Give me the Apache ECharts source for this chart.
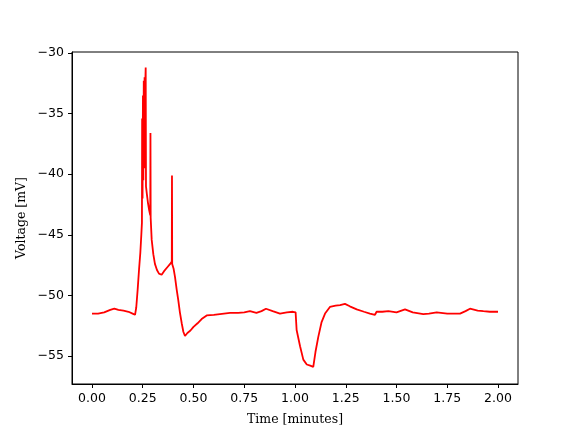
<!DOCTYPE html>
<html>
<head>
<meta charset="utf-8">
<title>Voltage trace</title>
<style>
  html, body { margin: 0; padding: 0; background: #fff; }
  #chart { width: 576px; height: 432px; }
</style>
<script src="https://cdn.jsdelivr.net/npm/echarts@6/dist/echarts.min.js"></script>
</head>
<body>
<div id="chart"></div>
<script>
// time in minutes, voltage in mV
var timeMin = [
  0.00, 0.03, 0.06, 0.09, 0.11, 0.13, 0.155, 0.18, 0.20, 0.212,
  0.218, 0.225, 0.232, 0.238, 0.243, 0.246, 0.247, 0.249, 0.251, 0.253,
  0.255, 0.257, 0.259, 0.261, 0.263, 0.2645, 0.266, 0.270, 0.276, 0.282,
  0.287, 0.288, 0.289, 0.294, 0.302, 0.310, 0.320, 0.330, 0.343, 0.355,
  0.370, 0.385, 0.393, 0.394, 0.395, 0.402, 0.409, 0.417, 0.425, 0.433,
  0.442, 0.450, 0.458, 0.47, 0.485, 0.50, 0.52, 0.54, 0.565, 0.60,
  0.65, 0.68, 0.72, 0.75, 0.778, 0.81, 0.835, 0.857, 0.89, 0.926,
  0.96, 0.99, 1.003, 1.008, 1.025, 1.041, 1.058, 1.075, 1.09, 1.099,
  1.100, 1.101, 1.115, 1.131, 1.148, 1.172, 1.20, 1.222, 1.246, 1.27,
  1.304, 1.34, 1.369, 1.394, 1.402, 1.43, 1.46, 1.50, 1.542, 1.58,
  1.632, 1.66, 1.698, 1.75, 1.813, 1.84, 1.862, 1.90, 1.928, 1.96,
  2.00
];
var voltage = [
  -51.5, -51.5, -51.4, -51.2, -51.1, -51.2, -51.25, -51.35, -51.5, -51.6,
  -51.0, -49.5, -47.8, -46.5, -45.0, -44.0, -35.4, -42.0, -33.5, -40.5,
  -32.3, -39.5, -32.0, -38.0, -32.2, -31.2, -41.0, -41.6, -42.4, -43.0,
  -43.4, -36.6, -43.6, -45.4, -46.6, -47.4, -47.9, -48.2, -48.3, -48.0,
  -47.7, -47.4, -47.2, -40.1, -47.4, -47.8, -48.5, -49.5, -50.4, -51.4,
  -52.3, -53.0, -53.35, -53.1, -52.9, -52.6, -52.3, -51.95, -51.65, -51.6,
  -51.5, -51.45, -51.45, -51.4, -51.3, -51.45, -51.3, -51.1, -51.3, -51.5,
  -51.4, -51.35, -51.4, -52.85, -54.2, -55.3, -55.7, -55.8, -55.9, -55.95,
  -56.0, -54.65, -53.4, -52.2, -51.5, -50.95, -50.85, -50.8, -50.7, -50.9,
  -51.15, -51.35, -51.5, -51.6, -51.35, -51.35, -51.3, -51.4, -51.15, -51.4,
  -51.55, -51.5, -51.4, -51.5, -51.5, -51.3, -51.1, -51.25, -51.3, -51.35,
  -51.35
];
var xTicks = [0, 0.25, 0.5, 0.75, 1.0, 1.25, 1.5, 1.75, 2.0];
var yTicks = [-55, -50, -45, -40, -35, -30];

var points = timeMin.map(function (t, i) { return [t, voltage[i]]; });

var chart = echarts.init(document.getElementById('chart'));
var tickFont = { fontFamily: 'DejaVu Sans', fontSize: 12.5, color: '#000' };
var nameFont = { fontFamily: 'DejaVu Serif', fontSize: 12.5, color: '#000' };

chart.setOption({
  animation: false,
  grid: {
    left: 72, right: 58, top: 52, bottom: 48,
    show: true, borderColor: '#000', borderWidth: 1
  },
  xAxis: {
    type: 'value',
    min: -0.0985, max: 2.0985,
    name: 'Time [minutes]',
    nameLocation: 'middle',
    nameGap: 29,
    nameMoveOverlap: false,
    nameTextStyle: nameFont,
    axisLine: { show: true, onZero: false, lineStyle: { color: '#000', width: 1 } },
    axisTick: { show: true, length: 4, customValues: xTicks, lineStyle: { color: '#000' } },
    axisLabel: Object.assign({
      customValues: xTicks, margin: 8,
      formatter: function (v) { return v.toFixed(2); }
    }, tickFont),
    splitLine: { show: false }
  },
  yAxis: {
    type: 'value',
    min: -57.31, max: -29.92,
    name: 'Voltage [mV]',
    nameLocation: 'middle',
    nameGap: 44,
    nameMoveOverlap: false,
    nameTextStyle: nameFont,
    axisLine: { show: true, onZero: false, lineStyle: { color: '#000', width: 1 } },
    axisTick: { show: true, length: 4, customValues: yTicks, lineStyle: { color: '#000' } },
    axisLabel: Object.assign({
      customValues: yTicks, margin: 8,
      formatter: function (v) { return (v < 0 ? '\u2212' : '') + Math.abs(v); }
    }, tickFont),
    splitLine: { show: false }
  },
  series: [{
    type: 'line',
    data: points,
    showSymbol: false,
    silent: true,
    lineStyle: { color: '#ff0000', width: 1.8 }
  }]
});
</script>
</body>
</html>
